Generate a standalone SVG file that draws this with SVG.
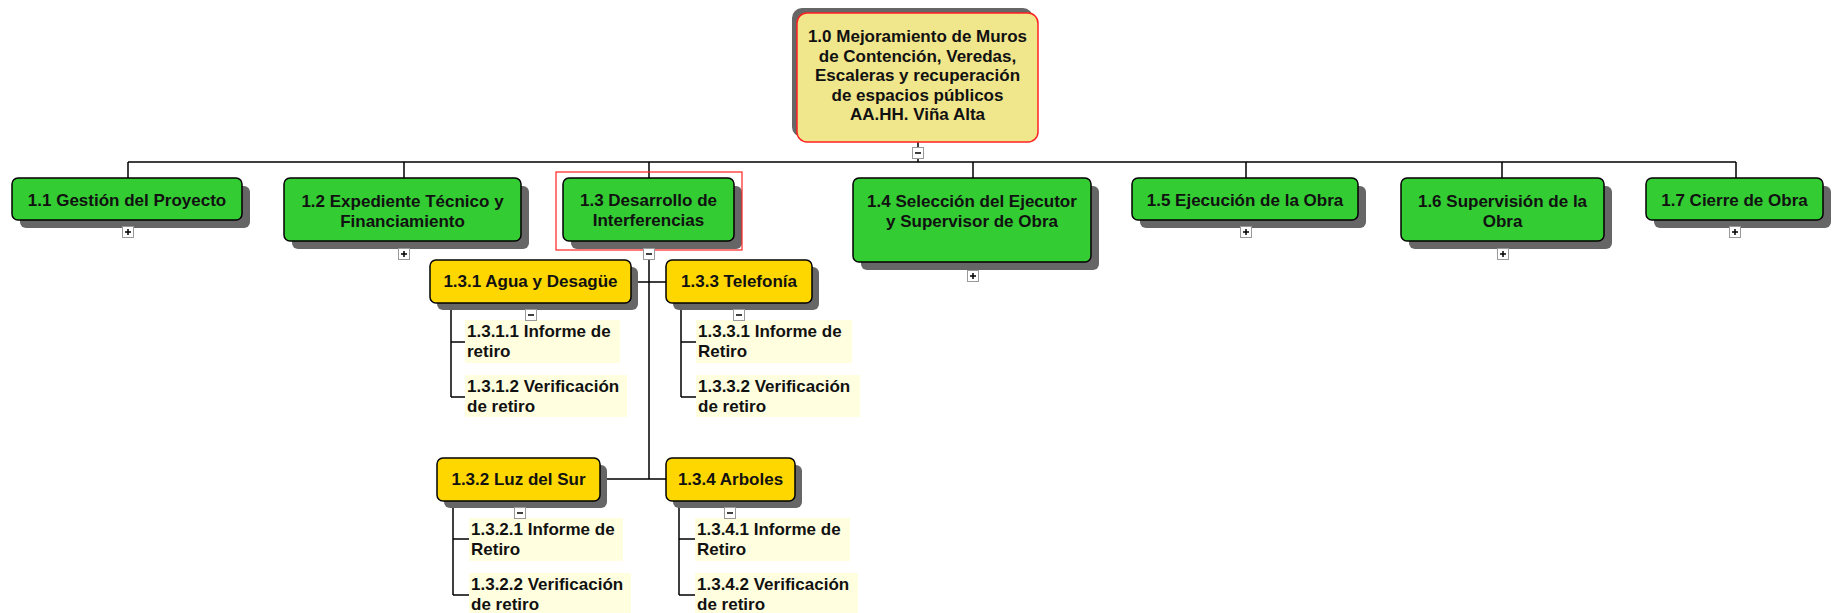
<svg xmlns="http://www.w3.org/2000/svg" xmlns:xlink="http://www.w3.org/1999/xlink" width="1834" height="613" viewBox="0 0 1834 613">
<style>
.sh{fill:#666}
.b{stroke:#000;stroke-width:1.5}
.g{fill:#33CC33}
.y{fill:#FFD700}
.r{fill:#F0E68C;stroke:#FF2020;stroke-width:1.5}
.leaf{fill:#FFFFE0}
.t{font-family:"Liberation Sans",Arial,sans-serif;font-weight:bold;font-size:17px;fill:#111;text-anchor:middle}
.tl{text-anchor:start}
.c{stroke:#000;stroke-width:1.5;fill:none}
.btn{fill:#fff;stroke:#999;stroke-width:1}
.bl{stroke:#000;stroke-width:1.5}
</style>
<defs>
<g id="plus"><rect class="btn" x="0.5" y="0.5" width="11" height="11"/><path class="bl" d="M3 6H9M6 3V9"/></g>
<g id="minus"><rect class="btn" x="0.5" y="0.5" width="11" height="11"/><path class="bl" d="M3 6H9"/></g>
</defs>
<rect width="1834" height="613" fill="#fff"/>

<g id="connectors">
<path class="c" d="M918 142V162M128 162H1736M128 162V178M404 162V178M649 162V178M973 162V178M1246 162V178M1502 162V178M1736 162V178"/>
<path class="c" d="M128 220V226M404 241V248M973 262V270M1246 220V226M1502 241V248M1735 220V226"/>
<path class="c" d="M649 241V479M631 282H666M600 479H666"/>
<path class="c" d="M451 303V397M451 342H465M451 397H465"/>
<path class="c" d="M681 303V397M681 342H696M681 397H696"/>
<path class="c" d="M453 501V595M453 539H469M453 595H469"/>
<path class="c" d="M679 501V595M679 539H695M679 595H695"/>
</g>

<g id="n1_0">
<rect class="sh" x="792" y="8" width="241" height="129" rx="10"/>
<rect class="r" x="797" y="13" width="241" height="129" rx="10"/>
<text class="t" x="917.5" y="42">1.0 Mejoramiento de Muros</text>
<text class="t" x="917.5" y="61.5">de Contención, Veredas,</text>
<text class="t" x="917.5" y="81">Escaleras y recuperación</text>
<text class="t" x="917.5" y="100.5">de espacios públicos</text>
<text class="t" x="917.5" y="120">AA.HH. Viña Alta</text>
</g>

<g id="n1_1">
<rect class="sh" x="20" y="186" width="230" height="42" rx="6"/>
<rect class="g b" x="12" y="178" width="230" height="42" rx="6"/>
<text class="t" x="127" y="206">1.1 Gestión del Proyecto</text>
</g>
<g id="n1_2">
<rect class="sh" x="292" y="186" width="237" height="63" rx="6"/>
<rect class="g b" x="284" y="178" width="237" height="63" rx="6"/>
<text class="t" x="402.5" y="207">1.2 Expediente Técnico y</text>
<text class="t" x="402.5" y="227">Financiamiento</text>
</g>
<g id="n1_3">
<rect class="sh" x="571" y="186" width="171" height="63" rx="6"/>
<rect class="g b" x="563" y="178" width="171" height="63" rx="6"/>
<text class="t" x="648.5" y="206">1.3 Desarrollo de</text>
<text class="t" x="648.5" y="226">Interferencias</text>
<rect x="556" y="172" width="186" height="78" fill="none" stroke="#FF2020" stroke-width="1.2"/>
</g>
<g id="n1_4">
<rect class="sh" x="861" y="186" width="238" height="84" rx="6"/>
<rect class="g b" x="853" y="178" width="238" height="84" rx="6"/>
<text class="t" x="972" y="207">1.4 Selección del Ejecutor</text>
<text class="t" x="972" y="227">y Supervisor de Obra</text>
</g>
<g id="n1_5">
<rect class="sh" x="1140" y="186" width="226" height="42" rx="6"/>
<rect class="g b" x="1132" y="178" width="226" height="42" rx="6"/>
<text class="t" x="1245" y="206">1.5 Ejecución de la Obra</text>
</g>
<g id="n1_6">
<rect class="sh" x="1409" y="186" width="203" height="63" rx="6"/>
<rect class="g b" x="1401" y="178" width="203" height="63" rx="6"/>
<text class="t" x="1502.5" y="207">1.6 Supervisión de la</text>
<text class="t" x="1502.5" y="227">Obra</text>
</g>
<g id="n1_7">
<rect class="sh" x="1654" y="186" width="177" height="42" rx="6"/>
<rect class="g b" x="1646" y="178" width="177" height="42" rx="6"/>
<text class="t" x="1734.5" y="206">1.7 Cierre de Obra</text>
</g>

<g id="n1_3_1">
<rect class="sh" x="437" y="267" width="201" height="43" rx="6"/>
<rect class="y b" x="430" y="260" width="201" height="43" rx="6"/>
<text class="t" x="530.5" y="287">1.3.1 Agua y Desagüe</text>
</g>
<g id="n1_3_3">
<rect class="sh" x="673" y="267" width="146" height="43" rx="6"/>
<rect class="y b" x="666" y="260" width="146" height="43" rx="6"/>
<text class="t" x="739" y="287">1.3.3 Telefonía</text>
</g>
<g id="n1_3_2">
<rect class="sh" x="444" y="465" width="163" height="43" rx="6"/>
<rect class="y b" x="437" y="458" width="163" height="43" rx="6"/>
<text class="t" x="518.5" y="485">1.3.2 Luz del Sur</text>
</g>
<g id="n1_3_4">
<rect class="sh" x="673" y="465" width="129" height="43" rx="6"/>
<rect class="y b" x="666" y="458" width="129" height="43" rx="6"/>
<text class="t" x="730.5" y="485">1.3.4 Arboles</text>
</g>

<g id="n1_3_1_1">
<rect class="leaf" x="465" y="320" width="155" height="43"/>
<text class="t tl" x="467" y="337">1.3.1.1 Informe de</text>
<text class="t tl" x="467" y="357">retiro</text>
</g>
<g id="n1_3_1_2">
<rect class="leaf" x="465" y="375" width="162" height="42"/>
<text class="t tl" x="467" y="392">1.3.1.2 Verificación</text>
<text class="t tl" x="467" y="412">de retiro</text>
</g>
<g id="n1_3_3_1">
<rect class="leaf" x="696" y="320" width="156" height="43"/>
<text class="t tl" x="698" y="337">1.3.3.1 Informe de</text>
<text class="t tl" x="698" y="357">Retiro</text>
</g>
<g id="n1_3_3_2">
<rect class="leaf" x="696" y="375" width="164" height="42"/>
<text class="t tl" x="698" y="392">1.3.3.2 Verificación</text>
<text class="t tl" x="698" y="412">de retiro</text>
</g>
<g id="n1_3_2_1">
<rect class="leaf" x="469" y="518" width="154" height="43"/>
<text class="t tl" x="471" y="535">1.3.2.1 Informe de</text>
<text class="t tl" x="471" y="555">Retiro</text>
</g>
<g id="n1_3_2_2">
<rect class="leaf" x="469" y="573" width="162" height="42"/>
<text class="t tl" x="471" y="590">1.3.2.2 Verificación</text>
<text class="t tl" x="471" y="610">de retiro</text>
</g>
<g id="n1_3_4_1">
<rect class="leaf" x="695" y="518" width="155" height="43"/>
<text class="t tl" x="697" y="535">1.3.4.1 Informe de</text>
<text class="t tl" x="697" y="555">Retiro</text>
</g>
<g id="n1_3_4_2">
<rect class="leaf" x="695" y="573" width="163" height="42"/>
<text class="t tl" x="697" y="590">1.3.4.2 Verificación</text>
<text class="t tl" x="697" y="610">de retiro</text>
</g>

<g id="toggles">
<use xlink:href="#minus" x="912" y="147"/>
<use xlink:href="#plus" x="122" y="226"/>
<use xlink:href="#plus" x="398" y="248"/>
<use xlink:href="#minus" x="643" y="248"/>
<use xlink:href="#plus" x="967" y="270"/>
<use xlink:href="#plus" x="1240" y="226"/>
<use xlink:href="#plus" x="1497" y="248"/>
<use xlink:href="#plus" x="1729" y="226"/>
<use xlink:href="#minus" x="525" y="309"/>
<use xlink:href="#minus" x="733" y="309"/>
<use xlink:href="#minus" x="514" y="507"/>
<use xlink:href="#minus" x="724" y="507"/>
</g>
</svg>
